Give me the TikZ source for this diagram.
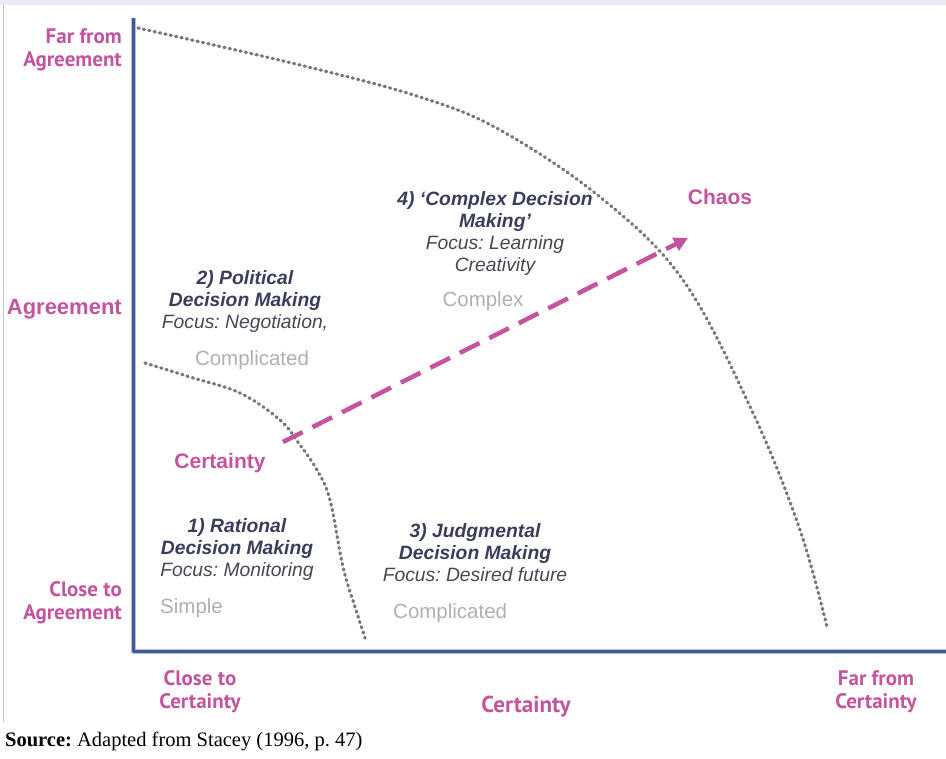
\documentclass[tikz,border=0pt]{standalone}
\usepackage{fontspec}
\setmainfont{Liberation Sans}
\newfontfamily\axisfont{PT Sans}
\newfontfamily\srcfont{Liberation Serif}
\usetikzlibrary{arrows.meta}
\definecolor{axisblue}{RGB}{61,90,148}
\definecolor{axisedge}{RGB}{170,190,225}
\definecolor{pinkish}{RGB}{196,84,158}
\definecolor{navytext}{RGB}{58,62,92}
\definecolor{focustext}{RGB}{72,72,84}
\definecolor{zonetext}{RGB}{176,176,176}
\definecolor{dotgray}{RGB}{118,118,124}
\definecolor{topband}{RGB}{232,236,241}
\tikzset{
  axislabel/.style={text=pinkish, font=\axisfont\bfseries\fontsize{21}{23}\selectfont, align=center, inner sep=0pt},
  regime/.style={text=navytext, font=\bfseries\itshape\fontsize{19.3}{22}\selectfont, align=center, inner sep=0pt},
  zone/.style={text=zonetext, font=\fontsize{20.5}{23}\selectfont, inner sep=0pt},
  marker/.style={text=pinkish, font=\bfseries\fontsize{21}{24}\selectfont, inner sep=0pt},
  boundary/.style={dotgray, line width=3.2pt, dash pattern=on 1.2pt off 4.3pt, line cap=round},
}
\newcommand{\focus}[1]{{\mdseries\color{focustext}#1}}
\frenchspacing
\begin{document}
\begin{tikzpicture}[x=1pt, y=-1pt, line join=round, line cap=round]
		\useasboundingbox (0,0) rectangle (946,759);
		\fill[white] (0,0) rectangle (946,759);
		\fill[topband] (0,0) rectangle (946,5);
		\draw[gray!45, line width=0.8pt] (3,5) -- (3,722);
		% axes
		\draw[axisedge, line width=5pt, line cap=butt] (133,18) -- (133,651) -- (946,651);
		\draw[axisblue, line width=3pt, line cap=butt] (133,18) -- (133,651) -- (946,651);
		% regime boundaries
		\draw[boundary] plot[smooth, tension=0.6] coordinates {(138,28) (300,65) (420,97) (500,130) (600,197) (683,280) (753,413) (800,530) (827,627)};
		\draw[boundary] plot[smooth, tension=0.6] coordinates {(145,363) (190,377) (240,393) (280,420) (300,445) (317,470) (330,500) (343,567) (356,610) (365,638)};
		% axis labels
		\node[axislabel, anchor=east, align=right] (farAgr) at (122,50) {Far from\\Agreement};
		\node[text=pinkish, font=\bfseries\fontsize{22}{24}\selectfont, inner sep=0pt, anchor=east] (agr) at (122,309) {Agreement};
		\node[axislabel, anchor=east, align=right] (closeAgr) at (122,603) {Close to\\Agreement};
		\node[axislabel] (closeCert) at (200,692) {Close to\\Certainty};
		\node[axislabel, font=\axisfont\bfseries\fontsize{23}{25}\selectfont] (cert) at (526,707) {Certainty};
		\node[axislabel] (farCert) at (876,692) {Far from\\Certainty};
		% regimes
		\node[regime] (complex) at (495,234) {4) `Complex Decision\\Making'\\\focus{Focus: Learning}\\\focus{Creativity}};
		\node[regime] (political) at (245,302) {2) Political\\Decision Making\\\focus{Focus: Negotiation,}};
		\node[regime] (rational) at (237,550) {1) Rational\\Decision Making\\\focus{Focus: Monitoring}};
		\node[regime] (judgmental) at (475,553) {3) Judgmental\\Decision Making\\\focus{Focus: Desired future}};
		\node[zone] (zComplex) at (483,301) {Complex};
		\node[zone] (zPolitical) at (252,360) {Complicated};
		\node[zone, anchor=west] (zSimple) at (160,608) {Simple};
		\node[zone, anchor=west] (zJudg) at (393,613) {Complicated};
		% path towards chaos
		\node[marker] (chaos) at (720,197) {Chaos};
		\node[marker] (certainty) at (220,463) {Certainty};
		\coordinate (from) at (283,442);
		\coordinate (to) at (688,238);
		\draw[pinkish, line width=4.5pt, line cap=butt, dash pattern=on 22pt off 11pt, -{Triangle[length=14pt, width=14pt]}] (from) -- (to);
		\node[anchor=west, inner sep=0pt, font=\srcfont\fontsize{20.5}{23}\selectfont] (source) at (5,741) {\textbf{Source:} Adapted from Stacey (1996, p. 47)};
		\end{tikzpicture}
\end{document}
